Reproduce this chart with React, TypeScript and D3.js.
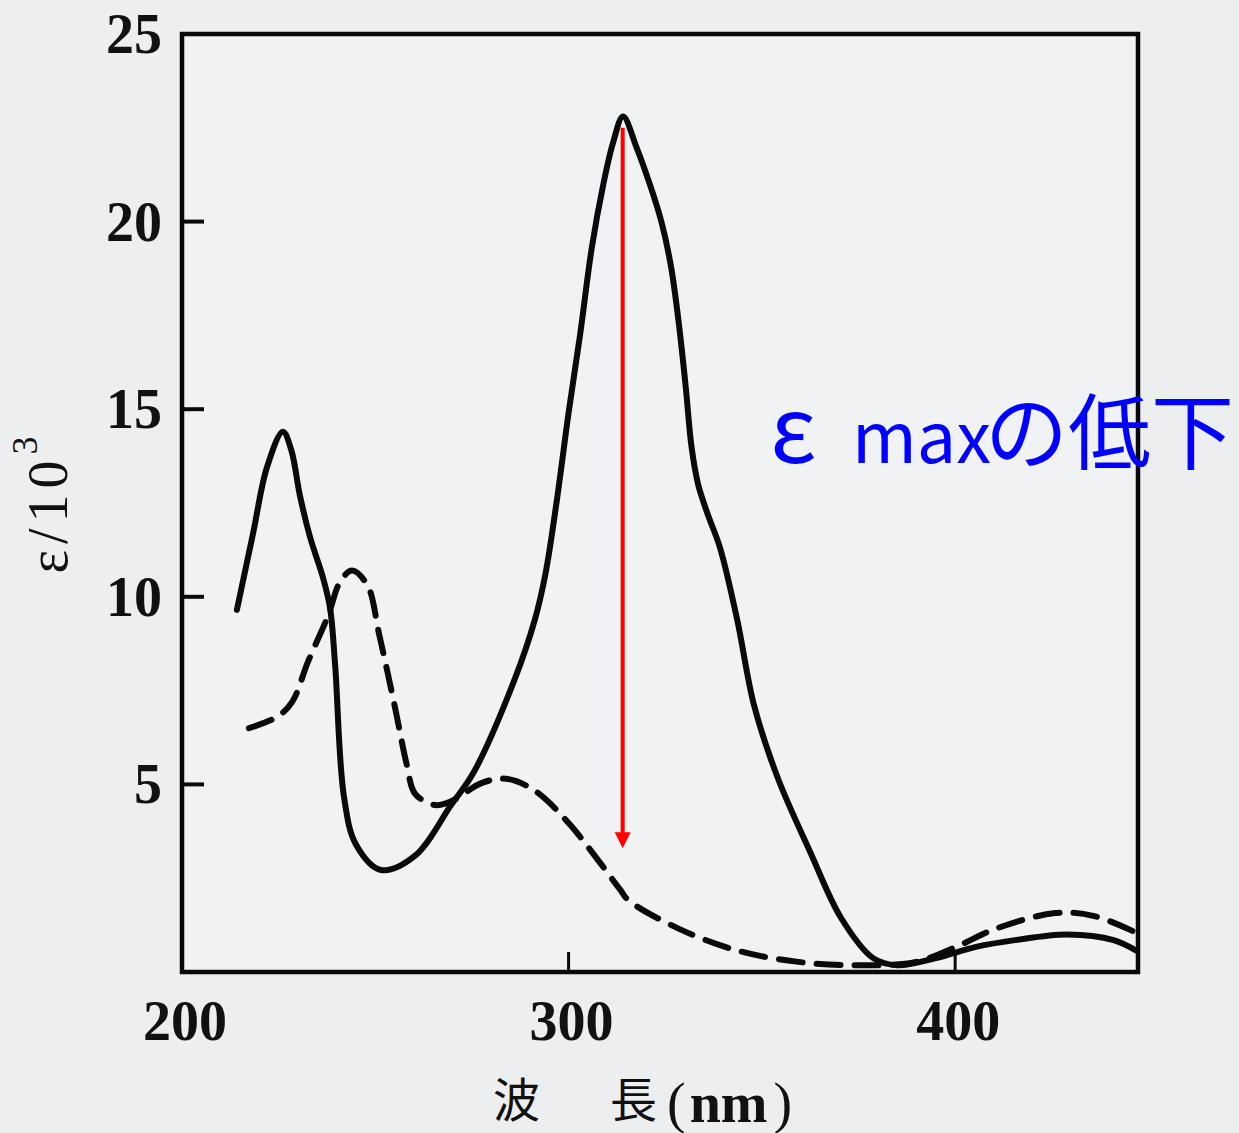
import React from 'react';
import * as d3 from 'd3';

// solid curve (wavelength nm, epsilon / 10^3)
const solidWl = [214.2, 218.4, 222, 226.1, 228.3, 230.5, 233.1, 236.5, 238.3, 239.6, 241.9, 245, 251.5, 260.3, 269.6, 275.5, 285.9, 291.3, 294, 297, 300, 303, 306, 309, 311.5, 314.1, 317.5, 321, 324, 326.5, 328.5, 330.3, 331.8, 333.5, 336, 339.2, 343.6, 348, 354.2, 362.5, 370.5, 378.8, 385, 395, 405.4, 415.5, 429, 441, 447];
const solidEps = [9.65, 11.7, 13.46, 14.4, 13.9, 12.7, 11.6, 10.5, 9.7, 8.2, 4.67, 3.4, 2.72, 3.1, 4.45, 5.33, 7.76, 9.4, 10.6, 12.6, 14.9, 17.0, 19.3, 21.0, 22.1, 22.8, 22.0, 21.0, 20.0, 18.8, 17.3, 15.6, 14.0, 13.0, 12.2, 11.3, 9.4, 7.1, 5.15, 3.2, 1.44, 0.37, 0.18, 0.37, 0.67, 0.85, 1.0, 0.85, 0.56];

// dashed curve
const dashWl = [217.3, 224.6, 228.5, 232.6, 237.8, 240.9, 244, 248, 251, 255, 258.2, 260.3, 265.5, 269.6, 277.6, 283.8, 291, 300, 313.3, 315.4, 328.6, 344.1, 359.4, 374.6, 389.9, 400.3, 410.4, 425.9, 436, 447];
const dashEps = [6.5, 6.8, 7.2, 8.27, 9.5, 10.4, 10.7, 10.3, 9.0, 7.1, 5.5, 4.75, 4.45, 4.55, 5.04, 5.15, 4.85, 3.97, 2.2, 1.92, 1.15, 0.56, 0.27, 0.18, 0.27, 0.67, 1.15, 1.57, 1.49, 1.04];

const xTicks = [200, 300, 400];
const yTicks = [5, 10, 15, 20, 25];

// arrow: from peak down to reduced value
const arrowWl = 314;
const arrowFrom = 22.5;
const arrowTo = 3.3;

export default function App() {
  const W = 1239;
  const H = 1133;
  const x = d3.scaleLinear().domain([200, 447.3]).range([182, 1138]);
  const y = d3.scaleLinear().domain([0, 25]).range([972, 34]);

  const line = d3
    .line<[number, number]>()
    .x((d) => x(d[0]))
    .y((d) => y(d[1]))
    .curve(d3.curveCatmullRom.alpha(0.5));

  const solid = line(solidWl.map((w, i) => [w, solidEps[i]]));
  const dashed = line(dashWl.map((w, i) => [w, dashEps[i]]));

  const ax = x(arrowWl);
  const ay1 = y(arrowFrom);
  const ay2 = y(arrowTo);

  const serif = '"Liberation Serif", "DejaVu Serif", serif';
  const cjk = '"Noto Sans CJK JP", sans-serif';

  return (
    <svg
      width={W}
      height={H}
      style={{ position: 'absolute', left: 0, top: 0, background: '#eceef0' }}
    >
      <rect x={x(200)} y={y(25)} width={x(447.3) - x(200)} height={y(0) - y(25)} fill="#f1f2f4" />

      {/* curves */}
      <path d={solid || ''} fill="none" stroke="#0a0a0a" strokeWidth={6} strokeLinejoin="round" strokeLinecap="round" />
      <path d={dashed || ''} fill="none" stroke="#0a0a0a" strokeWidth={6} strokeDasharray="24 14" strokeLinecap="round" />

      {/* frame */}
      <rect x={x(200)} y={y(25)} width={x(447.3) - x(200)} height={y(0) - y(25)} fill="none" stroke="#0a0a0a" strokeWidth={4.5} />

      {/* ticks */}
      {yTicks.filter((t) => t < 25).map((t) => (
        <line key={'yt' + t} x1={x(200)} x2={x(200) + 22} y1={y(t)} y2={y(t)} stroke="#0a0a0a" strokeWidth={4} />
      ))}
      {xTicks.filter((t) => t > 200).map((t) => (
        <line key={'xt' + t} x1={x(t)} x2={x(t)} y1={y(0)} y2={y(0) - 20} stroke="#0a0a0a" strokeWidth={3} />
      ))}

      {/* tick labels */}
      {yTicks.map((t) => (
        <text key={'yl' + t} x={162} y={y(t) + 19} textAnchor="end" fontFamily={serif} fontWeight="bold" fontSize={56} fill="#111">
          {t}
        </text>
      ))}
      {xTicks.map((t) => (
        <text key={'xl' + t} x={x(t) + 3} y={1040} textAnchor="middle" fontFamily={serif} fontWeight="bold" fontSize={56} fill="#111">
          {t}
        </text>
      ))}

      {/* axis titles */}
      <text transform="translate(67,502) rotate(-90)" textAnchor="middle" fontFamily={serif} fontSize={56} letterSpacing={6} fill="#111">
        ε/10<tspan dy={-30} fontSize={36}>3</tspan>
      </text>
      <text x={493} y={1117} fontFamily={cjk} fontSize={47} fill="#111">
        波
      </text>
      <text x={610} y={1117} fontFamily={cjk} fontSize={47} fill="#111">
        長
      </text>
      <text x={667} y={1122} fontFamily={serif} fontSize={56} fill="#111">
        (<tspan fontWeight="bold" dx={4}>nm</tspan><tspan dx={6}>)</tspan>
      </text>

      {/* red arrow */}
      <line x1={ax} x2={ax} y1={ay1} y2={ay2 - 14} stroke="#ff0000" strokeWidth={4} />
      <path d={`M${ax - 8},${ay2 - 16} L${ax + 8},${ay2 - 16} L${ax},${ay2} Z`} fill="#ff0000" />

      {/* annotation */}
      <text y={463} fontFamily={cjk} fill="#0000ff">
        <tspan x={770} fontSize={92}>ε</tspan>
        <tspan x={852} fontSize={70}>max</tspan>
        <tspan x={985} fontSize={83}>の低下</tspan>
      </text>
    </svg>
  );
}
